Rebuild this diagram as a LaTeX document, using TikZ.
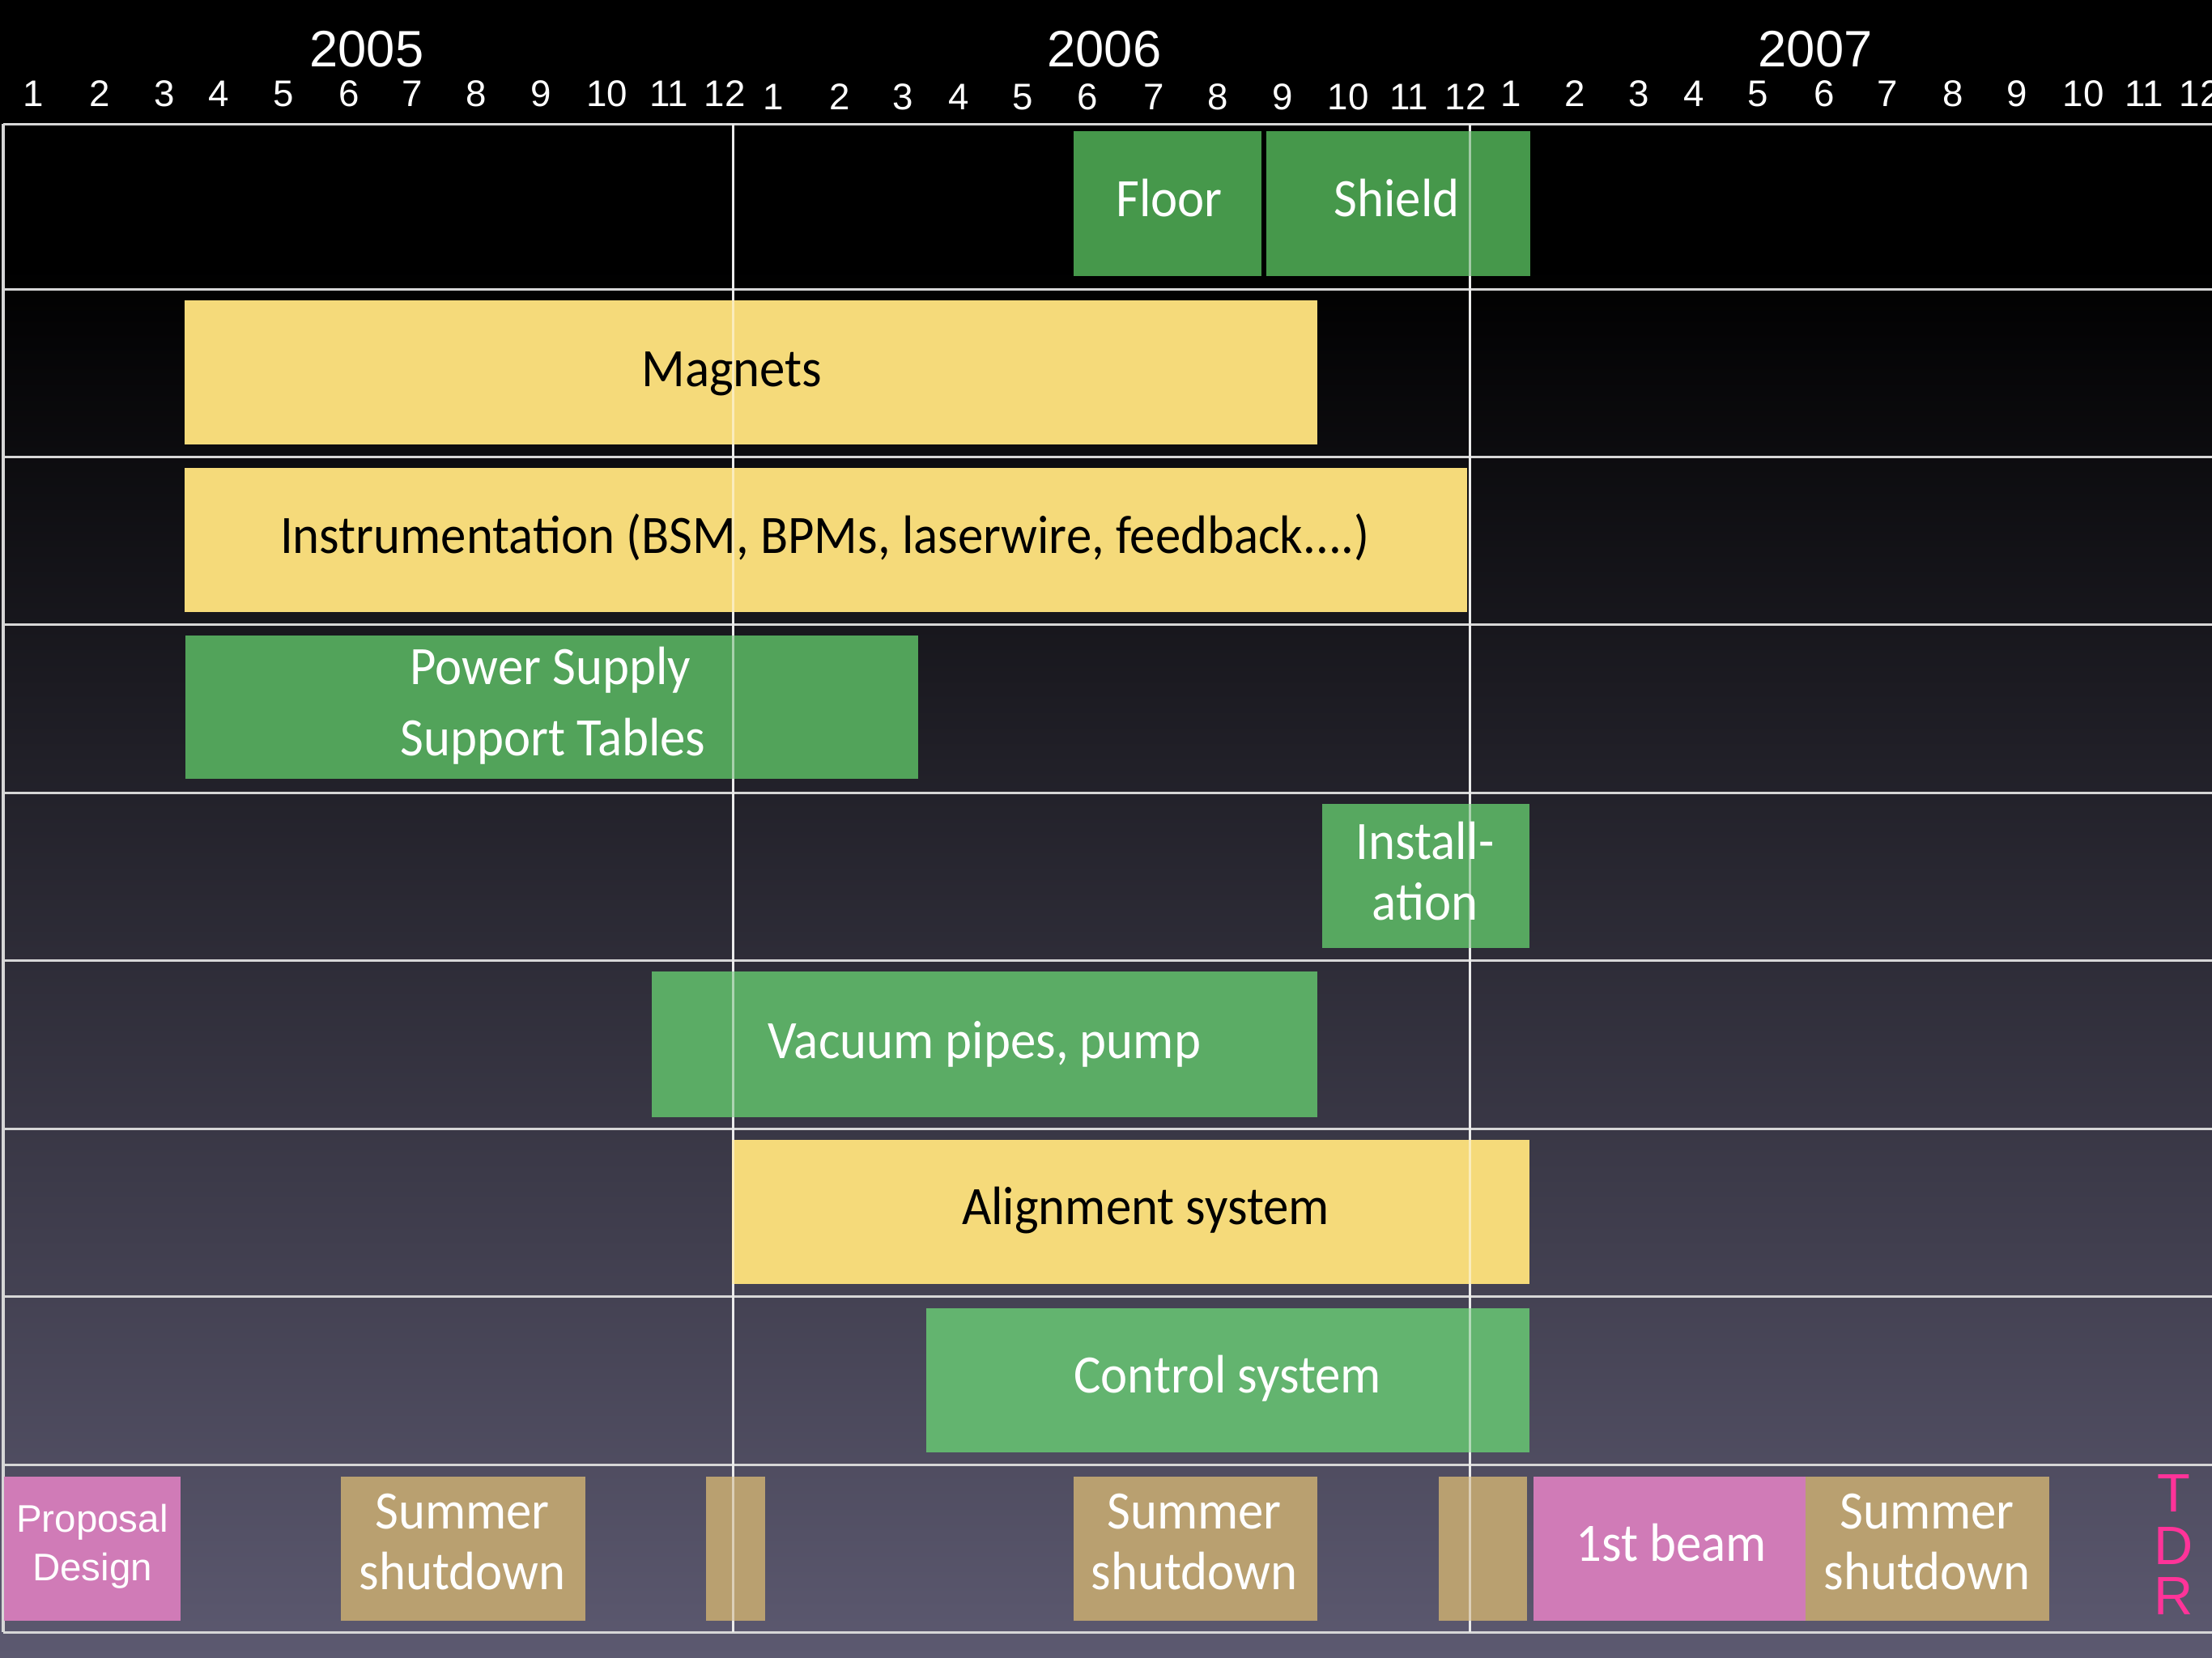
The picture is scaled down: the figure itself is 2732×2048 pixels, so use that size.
\documentclass[tikz,border=0pt]{standalone}
\usepackage{fontspec}
\setmainfont[FakeStretch=0.94]{Carlito}
\newfontfamily\helv{Liberation Sans}
\usetikzlibrary{fit}
\definecolor{bgbot}{RGB}{92,89,112}
\definecolor{gridc}{RGB}{215,215,215}
\definecolor{grnA}{RGB}{70,152,75}
\definecolor{grnD}{RGB}{82,163,90}
\definecolor{grnE}{RGB}{87,168,96}
\definecolor{grnF}{RGB}{91,172,101}
\definecolor{grnH}{RGB}{99,180,111}
\definecolor{yel}{RGB}{245,218,122}
\definecolor{tan}{RGB}{185,160,112}
\definecolor{pnk}{RGB}{208,123,183}
\definecolor{tdr}{RGB}{255,51,153}
\tikzset{
  gridline/.style={draw=gridc, line width=0.03cm},
  overline/.style={draw=white, draw opacity=0.5, line width=0.03cm},
  bar/.style={inner sep=0pt, outer sep=0pt, draw=none},
  bartext/.style={inner sep=0pt, text=white, font=\fontsize{19}{23}\selectfont, anchor=base},
  darktext/.style={bartext, text=black},
  month/.style={inner sep=0pt, text=white, font=\helv\fontsize{13}{15}\selectfont},
  year/.style={inner sep=0pt, text=white, font=\helv\fontsize{18}{20}\selectfont},
  small/.style={inner sep=0pt, text=white, font=\helv\fontsize{13.5}{16}\selectfont, anchor=base},
  tdrtext/.style={inner sep=0pt, text=tdr, font=\helv\fontsize{19}{21}\selectfont},
}
\begin{document}
\begin{tikzpicture}[x=0.01cm, y=-0.01cm]
\useasboundingbox (0,0) rectangle (2732,2048);
\fill[black] (0,0) rectangle (2732,2048);
\shade[top color=black, bottom color=bgbot] (0,330) rectangle (2732,2048);

% year and month labels
\node[year] (y2005) at (453,61) {2005};
\node[year] (y2006) at (1364,61) {2006};
\node[year] (y2007) at (2242,61) {2007};
\foreach \m/\x in {1/41,2/123,3/203,4/270,5/350,6/431,7/509,8/588,9/668,10/750,11/826,12/895}
  \node[month] (ma\m) at (\x,116) {\m};
\foreach \m/\x in {1/955,2/1037,3/1115,4/1184,5/1263,6/1343,7/1425,8/1504,9/1584,10/1665,11/1740,12/1810}
  \node[month] (mb\m) at (\x,120) {\m};
\foreach \m/\x in {1/1866,2/1945,3/2024,4/2092,5/2171,6/2253,7/2331,8/2412,9/2491,10/2573,11/2648,12/2717}
  \node[month] (mc\m) at (\x,116) {\m};

% grid
\foreach \y in {153,357,564,771,979,1186,1394,1601,1809,2016}
  \draw[gridline] (4,\y) -- (2740,\y);
\draw[gridline] (4,153) -- (4,2016);
\draw[gridline] (905,153) -- (905,2016);
\draw[gridline] (1815,153) -- (1815,2016);

% bars
\node[bar, fill=grnA, fit={(1326,162) (1558,341)}] (floor) {};
\node[bar, fill=grnA, fit={(1564,162) (1890,341)}] (shield) {};
\node[bar, fill=yel, fit={(228,371) (1627,549)}] (magnets) {};
\node[bar, fill=yel, fit={(228,578) (1812,756)}] (instr) {};
\node[bar, fill=grnD, fit={(229,785) (1134,962)}] (power) {};
\node[bar, fill=grnE, fit={(1633,993) (1889,1171)}] (install) {};
\node[bar, fill=grnF, fit={(805,1200) (1627,1380)}] (vacuum) {};
\node[bar, fill=yel, fit={(904,1408) (1889,1586)}] (align) {};
\node[bar, fill=grnH, fit={(1144,1616) (1889,1794)}] (control) {};
\node[bar, fill=pnk, fit={(5,1824) (223,2002)}] (proposal) {};
\node[bar, fill=tan, fit={(421,1824) (723,2002)}] (summerA) {};
\node[bar, fill=tan, fit={(872,1824) (945,2002)}] (xmasA) {};
\node[bar, fill=tan, fit={(1326,1824) (1627,2002)}] (summerB) {};
\node[bar, fill=tan, fit={(1777,1824) (1886,2002)}] (xmasB) {};
\node[bar, fill=pnk, fit={(1894,1824) (2230,2002)}] (beam) {};
\node[bar, fill=tan, fit={(2230,1824) (2531,2002)}] (summerC) {};

% texts
\node[bartext] (tfloor) at (1444,267) {Floor};
\node[bartext] (tshield) at (1725,267) {Shield};
\node[darktext] (tmagnets) at (904,477) {Magnets};
\node[darktext] (tinstr) at (1019,683) {Instrumentation (BSM, BPMs, laserwire, feedback....)};
\node[bartext] (tpower1) at (680,845) {Power Supply};
\node[bartext] (tpower2) at (683,933) {Support Tables};
\node[bartext] (tinst1) at (1760,1061) {Install-};
\node[bartext] (tinst2) at (1760,1136) {ation};
\node[bartext] (tvacuum) at (1216,1307) {Vacuum pipes, pump};
\node[darktext] (talign) at (1415,1512) {Alignment system};
\node[bartext] (tcontrol) at (1516,1720) {Control system};
\node[small] (tprop1) at (114,1892) {Proposal};
\node[small] (tprop2) at (114,1952) {Design};
\node[bartext] (tsumA1) at (571,1888) {Summer};
\node[bartext] (tsumA2) at (571,1963) {shutdown};
\node[bartext] (tsumB1) at (1475,1888) {Summer};
\node[bartext] (tsumB2) at (1475,1963) {shutdown};
\node[bartext] (tsumC1) at (2380,1888) {Summer};
\node[bartext] (tsumC2) at (2380,1963) {shutdown};
\node[bartext] (tbeam) at (2064,1928) {1st beam};
\node[tdrtext] (tdrT) at (2685,1844) {T};
\node[tdrtext] (tdrD) at (2685,1909) {D};
\node[tdrtext] (tdrR) at (2685,1971) {R};

% year boundary lines over the bars
\draw[overline] (905,153) -- (905,2016);
\draw[overline] (1815,153) -- (1815,2016);
\end{tikzpicture}
\end{document}
